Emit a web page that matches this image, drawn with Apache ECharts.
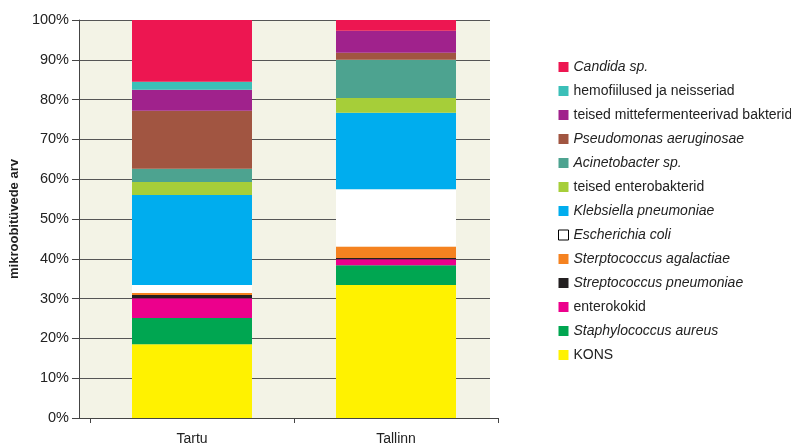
<!DOCTYPE html>
<html>
<head>
<meta charset="utf-8">
<script src="https://cdn.jsdelivr.net/npm/echarts@6/dist/echarts.min.js"></script>
<style>html,body{margin:0;padding:0;background:#fff}#c{width:791px;height:448px}</style>
</head>
<body>
<div id="c"></div>
<script>
const categories = ['Tartu', 'Tallinn'];
const yTicks = [0, 10, 20, 30, 40, 50, 60, 70, 80, 90, 100];

// series names (bottom to top of stack)
const names = [
  'KONS',
  'Staphylococcus aureus',
  'enterokokid',
  'Streptococcus pneumoniae',
  'Sterptococcus agalactiae',
  'Escherichia coli',
  'Klebsiella pneumoniae',
  'teised enterobakterid',
  'Acinetobacter sp.',
  'Pseudomonas aeruginosae',
  'teised mittefermenteerivad bakterid',
  'hemofiilused ja neisseriad',
  'Candida sp.'
];
const italicNames = ['Staphylococcus aureus','Streptococcus pneumoniae','Sterptococcus agalactiae',
  'Escherichia coli','Klebsiella pneumoniae','Acinetobacter sp.','Pseudomonas aeruginosae','Candida sp.'];

// values [Tartu, Tallinn] in %
const kons = [18.5, 33.4];
const staph = [6.6, 5.0];
const enterokokid = [5.0, 1.5];
const strepPneu = [0.8, 0.3];
const strepAgal = [0.5, 2.9];
const ecoli = [2.0, 14.4];
const klebsiella = [22.6, 19.2];
const teisedEntero = [3.3, 3.7];
const acinetobacter = [3.3, 9.6];
const pseudomonas = [14.6, 1.8];
const mittefermenteerivad = [5.3, 5.5];
const hemofiilused = [2.0, 0];
const candida = [15.5, 2.7];

const values = [kons, staph, enterokokid, strepPneu, strepAgal, ecoli, klebsiella,
  teisedEntero, acinetobacter, pseudomonas, mittefermenteerivad, hemofiilused, candida];
const colors = ['#FFF200','#00A651','#EC008C','#231F20','#F58220','#FFFFFF','#00ADEE',
  '#A6CE39','#4DA390','#A15541','#A0228C','#3BBFB8','#ED1651'];

const font = 'Liberation Sans, Arial, sans-serif';

const series = names.map((n, i) => ({
  name: n,
  type: 'bar',
  stack: 'total',
  xAxisIndex: 1,
  yAxisIndex: 1,
  barWidth: 120,
  z: 10,
  itemStyle: { color: colors[i] },
  emphasis: { disabled: true },
  data: values[i]
}));

const legendData = names.slice().reverse().map(n => {
  const o = { name: n };
  if (n === 'Escherichia coli') o.itemStyle = { color: '#FFFFFF', borderColor: '#000', borderWidth: 1 };
  return o;
});

const chart = echarts.init(document.getElementById('c'));
chart.setOption({
  animation: false,
  textStyle: { fontFamily: font },
  grid: [
    { left: 78, top: 20, width: 412, height: 398, show: true, backgroundColor: '#F3F3E6', borderWidth: 0 },
    { left: 90, top: 20, width: 408, height: 398, show: false }
  ],
  xAxis: [
    { type: 'category', gridIndex: 0, data: categories,
      axisLine: { show: true, lineStyle: { color: '#444', width: 1 } },
      axisTick: { show: false }, axisLabel: { show: false } },
    { type: 'category', gridIndex: 1, data: categories,
      axisLine: { show: true, lineStyle: { color: '#444', width: 1 } },
      axisTick: { show: true, length: 5, lineStyle: { color: '#444' } },
      axisLabel: { fontSize: 14, color: '#222', margin: 14, fontFamily: font } }
  ],
  yAxis: [
    { type: 'value', gridIndex: 0, min: yTicks[0], max: yTicks[yTicks.length - 1], interval: 10,
      name: 'mikroobitüvede arv', nameLocation: 'middle', nameRotate: 90, nameGap: 55,
      nameTextStyle: { fontSize: 13, fontWeight: 'bold', color: '#222', fontFamily: font },
      axisLine: { show: true, lineStyle: { color: '#444', width: 1 } },
      axisTick: { show: true, length: 7, lineStyle: { color: '#444' } },
      axisLabel: { formatter: '{value}%', fontSize: 14.5, color: '#222', margin: 10, fontFamily: font },
      splitLine: { show: true, lineStyle: { color: '#555', width: 1 } } },
    { type: 'value', gridIndex: 1, min: 0, max: 100, show: false, splitLine: { show: false } }
  ],
  legend: {
    orient: 'vertical',
    left: 553,
    top: 55,
    itemWidth: 10,
    itemHeight: 10,
    itemGap: 10,
    icon: 'rect',
    data: legendData,
    textStyle: { fontSize: 14, color: '#222', fontFamily: font,
      rich: { i: { fontStyle: 'italic', fontSize: 14, color: '#222', fontFamily: font } } },
    formatter: n => italicNames.includes(n) ? '{i|' + n + '}' : n
  },
  series: series
});
</script>
</body>
</html>
